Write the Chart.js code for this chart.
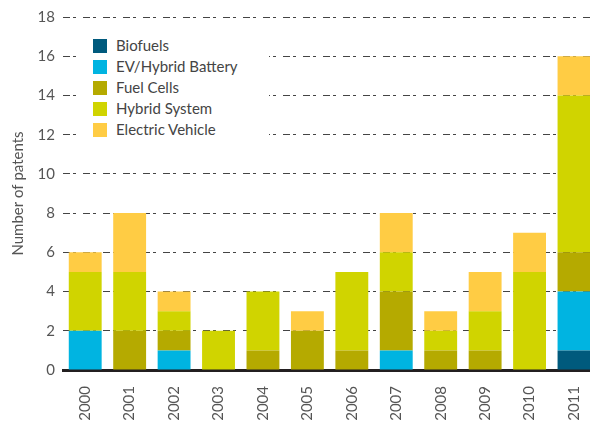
<!DOCTYPE html>
<html>
<head>
<meta charset="utf-8">
<script src="https://cdn.jsdelivr.net/npm/chart.js@4"></script>
<style>
  html, body { margin: 0; padding: 0; background: #fff; overflow: hidden; }
  #wrap { position: relative; width: 600px; height: 421px; }
  #legend {
    position: absolute; left: 78px; top: 31px; width: 176px;
    background: #fff; padding: 4px 0 4px 15px;
    font-family: Lato, "Open Sans", sans-serif; font-size: 15px; color: #444;
  }
  #legend div { height: 21px; line-height: 21px; white-space: nowrap; }
  #legend span.box { display: inline-block; width: 14px; height: 14px; vertical-align: -2px; margin-right: 9px; }
</style>
</head>
<body>
<div id="wrap">
  <canvas id="chart" width="600" height="421"></canvas>
  <div id="legend"></div>
</div>
<script>
// Patents per year, by technology
const years = ['2000', '2001', '2002', '2003', '2004', '2005', '2006', '2007', '2008', '2009', '2010', '2011'];

const biofuels        = [0, 0, 0, 0, 0, 0, 0, 0, 0, 0, 0, 1];
const evHybridBattery = [2, 0, 1, 0, 0, 0, 0, 1, 0, 0, 0, 3];
const fuelCells       = [0, 2, 1, 0, 1, 2, 1, 3, 1, 1, 0, 2];
const hybridSystem    = [3, 3, 1, 2, 3, 0, 4, 2, 1, 2, 5, 8];
const electricVehicle = [1, 3, 1, 0, 0, 1, 0, 2, 1, 2, 2, 2];

const yTicks = [0, 2, 4, 6, 8, 10, 12, 14, 16, 18];

const series = [
    { label: 'Biofuels', data: biofuels, color: '#005a7d' },
    { label: 'EV/Hybrid Battery', data: evHybridBattery, color: '#00b4e1' },
    { label: 'Fuel Cells', data: fuelCells, color: '#b5aa00' },
    { label: 'Hybrid System', data: hybridSystem, color: '#d0d400' },
    { label: 'Electric Vehicle', data: electricVehicle, color: '#ffcc44' }
];

const font = { family: 'Lato, "Open Sans", sans-serif', size: 15 };

// html legend, top-down in same order as the reference
const legend = document.getElementById('legend');
series.forEach(function (s) {
    const row = document.createElement('div');
    const box = document.createElement('span');
    box.className = 'box';
    box.style.background = s.color;
    row.appendChild(box);
    row.appendChild(document.createTextNode(s.label));
    legend.appendChild(row);
});

const ctx = document.getElementById('chart').getContext('2d');
new Chart(ctx, {
    type: 'bar',
    data: {
        labels: years,
        datasets: series.map(function (s) {
            return {
                label: s.label,
                data: s.data,
                backgroundColor: s.color,
                borderWidth: 0,
                categoryPercentage: 1,
                barPercentage: 0.74
            };
        })
    },
    options: {
        responsive: false,
        animation: false,
        layout: { padding: { top: 5, right: 0, left: 0, bottom: 0 } },
        plugins: { legend: { display: false }, tooltip: { enabled: false } },
        scales: {
            x: {
                stacked: true,
                grid: { display: false },
                border: { display: true, color: '#231f20', width: 3 },
                ticks: { color: '#555', font: font, minRotation: 90, maxRotation: 90, padding: 8 },
                afterFit: function (scale) { scale.height = 51; }
            },
            y: {
                stacked: true,
                min: 0,
                max: 18,
                afterBuildTicks: function (scale) {
                    scale.ticks = yTicks.map(function (v) { return { value: v }; });
                },
                grid: { color: '#444', lineWidth: 1, drawTicks: false },
                border: { display: false, dash: [7, 3, 3, 7] },
                ticks: { color: '#555', font: font, padding: 8 },
                title: { display: true, text: 'Number of patents', color: '#555', font: font, padding: { top: 9, bottom: 0 } },
                afterFit: function (scale) { scale.width = 63; }
            }
        }
    }
});
</script>
</body>
</html>
